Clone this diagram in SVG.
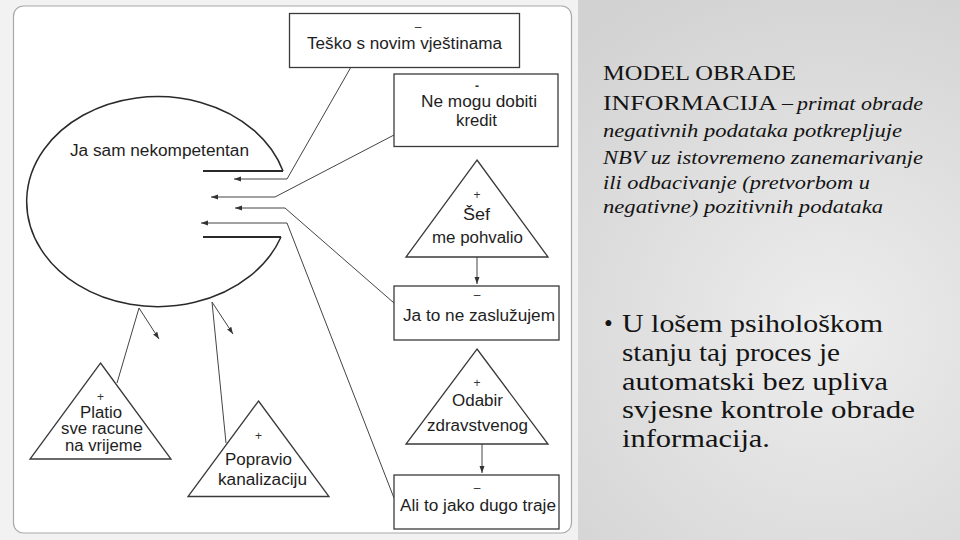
<svg xmlns="http://www.w3.org/2000/svg" width="960" height="540" viewBox="0 0 960 540">
<defs>
<radialGradient id="bg" cx="830" cy="330" r="380" gradientUnits="userSpaceOnUse">
<stop offset="0" stop-color="#ededed"/>
<stop offset="1" stop-color="#d2d2d2"/>
</radialGradient>
<marker id="ah" markerUnits="userSpaceOnUse" markerWidth="8" markerHeight="6" refX="7" refY="2.5" orient="auto">
<path d="M0,0 L7,2.5 L0,5 z" fill="#333"/>
</marker>
<style>
.d{font-family:"Liberation Sans",Arial,sans-serif;font-size:16px;fill:#1e1e1e}
.s{font-family:"Liberation Sans",Arial,sans-serif;font-size:12px;fill:#333;text-anchor:middle}
.n{fill:#fff;stroke:#3a3a3a;stroke-width:1.3}
.c{fill:none;stroke:#444;stroke-width:1}
.a{fill:none;stroke:#444;stroke-width:1;marker-end:url(#ah)}
.t{font-family:"Liberation Serif","Times New Roman",serif;fill:#141414}
.i{font-style:italic;font-size:18px}
.b{font-size:25px}
</style>
</defs>
<rect x="0" y="0" width="960" height="540" fill="url(#bg)"/>
<rect x="0" y="0" width="578" height="540" fill="#f2f2f2"/>
<rect x="13.5" y="6" width="558" height="527" rx="10" fill="#fff" stroke="#a8a8a8" stroke-width="1.2"/>

<g id="connectors">
<path class="a" d="M351,67 L287,179 L234,179"/>
<path class="a" d="M394,135 L275,197 L211,197"/>
<path class="a" d="M394,303 L285,208 L235,208"/>
<path class="a" d="M394,498 L287,223 L201,223"/>
<path class="c" d="M117,383 L139,308"/>
<path class="a" d="M139,308 L159,339"/>
<path class="c" d="M226,443 L212,302"/>
<path class="a" d="M212,302 L233,334"/>
<path class="a" d="M477,257 L477,284"/>
<path class="a" d="M482,444 L482,473"/>
</g>

<g id="node-nekompetentan">
<path d="M283,171 A131,105 0 1 0 281,237" fill="none" stroke="#2a2a2a" stroke-width="1.5"/>
<path d="M203,171 H283 M203,237 H281" fill="none" stroke="#2a2a2a" stroke-width="2.2"/>
<text class="d" x="70" y="156" textLength="179" lengthAdjust="spacingAndGlyphs">Ja sam nekompetentan</text>
</g>

<g id="node-tesko">
<rect class="n" x="289.5" y="13.5" width="230" height="54"/>
<text class="s" x="418" y="31" font-size="13">–</text>
<text class="d" x="307" y="49" textLength="195" lengthAdjust="spacingAndGlyphs">Teško s novim vještinama</text>
</g>

<g id="node-kredit">
<rect class="n" x="394" y="74" width="164" height="72.5"/>
<text class="s" x="477" y="90" font-size="14" font-weight="bold" fill="#000">-</text>
<text class="d" x="421" y="107" textLength="116" lengthAdjust="spacingAndGlyphs">Ne mogu dobiti</text>
<text class="d" x="456" y="126" textLength="41" lengthAdjust="spacingAndGlyphs">kredit</text>
</g>

<g id="node-sef">
<polygon class="n" points="477,160 548,257 406,257"/>
<text class="s" x="477" y="199">+</text>
<text class="d" x="463" y="220" textLength="27" lengthAdjust="spacingAndGlyphs">Šef</text>
<text class="d" x="432" y="243" textLength="91" lengthAdjust="spacingAndGlyphs">me pohvalio</text>
</g>

<g id="node-zasluzujem">
<rect class="n" x="394" y="286" width="165" height="54"/>
<text class="s" x="477" y="299" font-size="13">–</text>
<text class="d" x="403" y="321" textLength="152" lengthAdjust="spacingAndGlyphs">Ja to ne zaslužujem</text>
</g>

<g id="node-odabir">
<polygon class="n" points="477,349 548,444 406,444"/>
<text class="s" x="477" y="387">+</text>
<text class="d" x="452" y="406" textLength="51" lengthAdjust="spacingAndGlyphs">Odabir</text>
<text class="d" x="427" y="431" textLength="101" lengthAdjust="spacingAndGlyphs">zdravstvenog</text>
</g>

<g id="node-dugo">
<rect class="n" x="394" y="475" width="165" height="54"/>
<text class="s" x="477" y="492" font-size="13">–</text>
<text class="d" x="400" y="511" textLength="156" lengthAdjust="spacingAndGlyphs">Ali to jako dugo traje</text>
</g>

<g id="node-platio">
<polygon class="n" points="100.5,363 171,459 30,459"/>
<text class="s" x="100.5" y="401">+</text>
<text class="d" x="80" y="418" textLength="42" lengthAdjust="spacingAndGlyphs">Platio</text>
<text class="d" x="61" y="434" font-size="14" textLength="82" lengthAdjust="spacingAndGlyphs">sve racune</text>
<text class="d" x="65" y="451" font-size="14" textLength="77" lengthAdjust="spacingAndGlyphs">na vrijeme</text>
</g>

<g id="node-popravio">
<polygon class="n" points="258.5,401 329,496.5 188,496.5"/>
<text class="s" x="258.5" y="440">+</text>
<text class="d" x="225" y="465" textLength="67" lengthAdjust="spacingAndGlyphs">Popravio</text>
<text class="d" x="218" y="485" textLength="89" lengthAdjust="spacingAndGlyphs">kanalizaciju</text>
</g>

<g id="title">
<text class="t" x="603" y="80" font-size="22" textLength="193" lengthAdjust="spacingAndGlyphs">MODEL OBRADE</text>
<text class="t" x="603" y="110" font-size="22" textLength="174" lengthAdjust="spacingAndGlyphs">INFORMACIJA</text>
<text class="t" x="782" y="110" font-size="20" textLength="11" lengthAdjust="spacingAndGlyphs">–</text>
<text class="t i" x="797" y="110" textLength="126" lengthAdjust="spacingAndGlyphs">primat obrade</text>
<text class="t i" x="603" y="137" textLength="299" lengthAdjust="spacingAndGlyphs">negativnih podataka potkrepljuje</text>
<text class="t i" x="603" y="164" textLength="320" lengthAdjust="spacingAndGlyphs">NBV uz istovremeno zanemarivanje</text>
<text class="t i" x="603" y="189" textLength="267" lengthAdjust="spacingAndGlyphs">ili odbacivanje (pretvorbom u</text>
<text class="t i" x="603" y="213" textLength="280" lengthAdjust="spacingAndGlyphs">negativne) pozitivnih podataka</text>
</g>

<g id="bullet">
<text class="t b" x="604" y="332" font-size="20">•</text>
<text class="t b" x="622" y="332" textLength="261" lengthAdjust="spacingAndGlyphs">U lošem psihološkom</text>
<text class="t b" x="622" y="361" textLength="218" lengthAdjust="spacingAndGlyphs">stanju taj proces je</text>
<text class="t b" x="622" y="390" textLength="266" lengthAdjust="spacingAndGlyphs">automatski bez upliva</text>
<text class="t b" x="622" y="418" textLength="293" lengthAdjust="spacingAndGlyphs">svjesne kontrole obrade</text>
<text class="t b" x="622" y="447" textLength="148" lengthAdjust="spacingAndGlyphs">informacija.</text>
</g>
</svg>
